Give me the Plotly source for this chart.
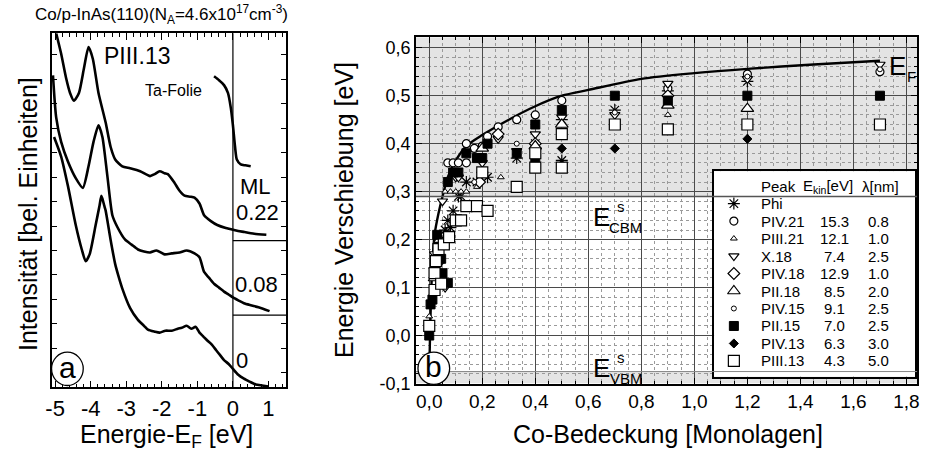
import plotly.graph_objects as go

W, H = 927, 463
FONT = "Arial, Liberation Sans, sans-serif"

# ---------------- left panel: spectra (energy eV, intensity arb.) ----------------
spec_0_E = [-5.03, -4.83, -4.64, -4.42, -4.25, -4.14, -4.03, -3.86, -3.75, -3.70, -3.67, -3.62, -3.58, -3.44,
            -3.31, -3.22, -3.11, -2.89, -2.67, -2.50, -2.39, -2.20, -2.06, -1.90, -1.72, -1.55, -1.44, -1.30,
            -1.17, -1.05, -0.94, -0.83, -0.72, -0.60, -0.47, -0.36, -0.25, -0.12, 0.0, 0.15, 0.31, 0.47, 0.64, 0.82, 1.0]
spec_0_I = [256, 236, 206, 166, 141, 129, 136, 166, 186, 196, 193, 186, 181, 151,
            126, 114, 101, 81, 69, 63, 59, 57, 56, 58, 58, 60, 61, 63,
            60, 62, 56, 52, 48, 44, 38, 33, 28, 24, 19, 13, 9, 6, 3, 2, 1]

spec_008_E = [-5.06, -4.97, -4.83, -4.64, -4.42, -4.22, -4.06, -3.92, -3.78, -3.67, -3.53, -3.39, -3.25, -3.03,
              -2.85, -2.67, -2.50, -2.33, -2.15, -1.92, -1.72, -1.50, -1.30, -1.08, -0.94, -0.81, -0.67, -0.53,
              -0.39, -0.25, -0.12, 0.0, 0.15, 0.31, 0.50, 0.72, 1.03]
spec_008_I = [319, 276, 251, 231, 214, 204, 226, 251, 268, 256, 216, 176, 164, 151,
              146, 141, 139, 138, 140, 136, 137, 138, 140, 137, 133, 118, 112, 106,
              102, 98, 95, 92, 89, 86, 84, 82, 78]

spec_022_E = [-4.97, -4.83, -4.69, -4.58, -4.47, -4.33, -4.19, -4.06, -3.94, -3.78, -3.58, -3.44, -3.31, -3.11,
              -2.89, -2.61, -2.33, -2.20, -2.06, -1.92, -1.83, -1.64, -1.50, -1.36, -1.20, -1.08, -0.94, -0.81,
              -0.62, -0.44, -0.20, 0.03, 0.30, 0.60, 0.94]
spec_022_I = [362, 341, 316, 301, 293, 301, 326, 348, 336, 301, 271, 246, 233, 226,
              224, 221, 216, 218, 221, 219, 218, 209, 201, 196, 195, 194, 188, 176,
              170, 166, 163, 161, 159, 157, 156]

ta_E = [-0.53, -0.39, -0.25, -0.14, -0.06, 0.0, 0.06, 0.11, 0.22, 0.35, 0.50]
ta_I = [318, 314, 309, 301, 286, 268, 246, 233, 228, 227, 226]

left_ticks = [-5, -4, -3, -2, -1, 0, 1]
left_ticktext = ["-5", "-4", "-3", "-2", "-1", "0", "1"]

# ---------------- right panel: shifts vs coverage ----------------
ef_x = [0.0, 0.003, 0.008, 0.013, 0.02, 0.035, 0.05, 0.07, 0.10, 0.14, 0.20, 0.30, 0.40, 0.50, 0.60,
        0.80, 1.00, 1.20, 1.45, 1.70]
ef_y = [-0.08, 0.0, 0.10, 0.16, 0.21, 0.255, 0.29, 0.33, 0.365, 0.395, 0.418, 0.45, 0.478, 0.50, 0.512,
        0.535, 0.547, 0.556, 0.565, 0.573]

phi_x = [0.06, 0.07, 0.08, 0.09, 0.11, 0.12, 0.14, 0.18, 0.20, 0.22, 0.33, 0.40, 0.50, 0.50, 0.70, 0.90, 1.20]
phi_y = [0.22, 0.24, 0.225, 0.26, 0.29, 0.29, 0.32, 0.32, 0.34, 0.33, 0.37, 0.40, 0.45, 0.365, 0.47, 0.51, 0.53]

piv21_x = [0.07, 0.09, 0.11, 0.14, 0.14, 0.17, 0.20, 0.22, 0.26, 0.33, 0.40, 0.50, 0.90, 1.20, 1.70]
piv21_y = [0.36, 0.36, 0.36, 0.36, 0.40, 0.39, 0.395, 0.415, 0.435, 0.45, 0.46, 0.49, 0.515, 0.545, 0.55]

piii21_x = [0.0, 0.02, 0.06, 0.08, 0.10, 0.12, 0.14, 0.18, 0.27, 0.90]
piii21_y = [0.04, 0.14, 0.30, 0.30, 0.30, 0.30, 0.30, 0.31, 0.33, 0.46]

x18_x = [0.02, 0.05, 0.06, 0.10, 0.11, 0.20, 0.26, 0.33, 0.40, 0.50, 0.70, 0.90, 1.20, 1.70]
x18_y = [0.17, 0.28, 0.10, 0.33, 0.33, 0.36, 0.41, 0.385, 0.42, 0.455, 0.46, 0.525, 0.535, 0.565]

piv18_x = [0.03, 0.19, 0.26, 0.40, 0.90]
piv18_y = [0.15, 0.32, 0.42, 0.40, 0.50]

pii18_x = [0.02, 0.04, 0.20, 0.40, 0.50, 0.90, 1.20]
pii18_y = [0.12, 0.20, 0.39, 0.395, 0.44, 0.48, 0.473]

piv15_x = [0.17, 0.33, 0.70, 1.20, 1.70]
piv15_y = [0.32, 0.40, 0.465, 0.54, 0.555]

pii15_x = [0.0, 0.005, 0.012, 0.03, 0.045, 0.05, 0.07, 0.07, 0.09, 0.11, 0.14, 0.18, 0.20, 0.22, 0.33,
           0.40, 0.40, 0.50, 0.70, 0.90, 1.20, 1.70]
pii15_y = [0.0, 0.065, 0.075, 0.21, 0.16, 0.13, 0.11, 0.32, 0.34, 0.34, 0.38, 0.37, 0.37, 0.40, 0.38,
           0.44, 0.365, 0.47, 0.50, 0.49, 0.50, 0.50]

piv13_x = [0.50, 0.70, 1.20]
piv13_y = [0.39, 0.39, 0.41]

piii13_x = [0.0, 0.02, 0.02, 0.025, 0.035, 0.045, 0.055, 0.075, 0.10, 0.12, 0.14, 0.18, 0.20, 0.22, 0.33,
            0.40, 0.40, 0.50, 0.50, 0.70, 0.90, 1.20, 1.70]
piii13_y = [0.02, 0.095, 0.13, 0.155, 0.18, 0.108, 0.19, 0.205, 0.24, 0.24, 0.27, 0.27, 0.34, 0.26, 0.31,
            0.38, 0.35, 0.42, 0.35, 0.44, 0.43, 0.44, 0.44]

peak_names = ["Phi", "PIV.21", "PIII.21", "X.18", "PIV.18", "PII.18", "PIV.15", "PII.15", "PIV.13", "PIII.13"]
ekin_vals = ["", "15.3", "12.1", "7.4", "12.9", "8.5", "9.1", "7.0", "6.3", "4.3"]
lambda_vals = ["", "0.8", "1.0", "2.5", "1.0", "2.0", "2.5", "2.5", "3.0", "5.0"]

right_xticks = [0.0, 0.2, 0.4, 0.6, 0.8, 1.0, 1.2, 1.4, 1.6, 1.8]
right_xticktext = ["0,0", "0,2", "0,4", "0,6", "0,8", "1,0", "1,2", "1,4", "1,6", "1,8"]
right_yticks = [-0.1, 0.0, 0.1, 0.2, 0.3, 0.4, 0.5, 0.6]
right_yticktext = ["-0,1", "0,0", "0,1", "0,2", "0,3", "0,4", "0,5", "0,6"]

series = [
    (phi_x, phi_y, dict(symbol="asterisk-open", size=10, color="black", line=dict(color="black", width=1.2))),
    (piv21_x, piv21_y, dict(symbol="circle", size=8, color="white", line=dict(color="black", width=1.2))),
    (piii21_x, piii21_y, dict(symbol="triangle-up", size=6, color="white", line=dict(color="black", width=1))),
    (x18_x, x18_y, dict(symbol="triangle-down", size=9, color="white", line=dict(color="black", width=1.2))),
    (piv18_x, piv18_y, dict(symbol="diamond", size=9, color="white", line=dict(color="black", width=1.2))),
    (pii18_x, pii18_y, dict(symbol="triangle-up", size=11, color="white", line=dict(color="black", width=1.2))),
    (piv15_x, piv15_y, dict(symbol="circle", size=5, color="white", line=dict(color="black", width=1))),
    (pii15_x, pii15_y, dict(symbol="square", size=9, color="black", line=dict(color="black", width=1))),
    (piv13_x, piv13_y, dict(symbol="diamond", size=7, color="black", line=dict(color="black", width=1))),
    (piii13_x, piii13_y, dict(symbol="square", size=11, color="white", line=dict(color="black", width=1.2))),
]

fig = go.Figure()

# left panel curves
for E, I in [(spec_0_E, spec_0_I), (spec_008_E, spec_008_I), (spec_022_E, spec_022_I), (ta_E, ta_I)]:
    fig.add_trace(go.Scatter(x=E, y=I, mode="lines", line=dict(color="black", width=2.6, shape="spline", smoothing=0.6),
                             xaxis="x", yaxis="y", showlegend=False, hoverinfo="skip"))

# right panel
fig.add_trace(go.Scatter(x=ef_x, y=ef_y, mode="lines", line=dict(color="black", width=2.4, shape="spline", smoothing=0.8),
                         xaxis="x2", yaxis="y2", showlegend=False, cliponaxis=True))
for xs, ys, mk in series:
    fig.add_trace(go.Scatter(x=xs, y=ys, mode="markers", marker=mk, xaxis="x2", yaxis="y2", showlegend=False))

# custom legend (overlay axes x3/y3): rows 1..10, header row 0
for i, (xs, ys, mk) in enumerate(series):
    fig.add_trace(go.Scatter(x=[20], y=[i + 1], mode="markers", marker=mk, xaxis="x3", yaxis="y3",
                             showlegend=False, hoverinfo="skip"))

annotations = []

def pann(text, x, y, size, xanchor="center", yanchor="middle", **kw):
    annotations.append(dict(text=text, x=x / W, y=1 - y / H, xref="paper", yref="paper", showarrow=False,
                            xanchor=xanchor, yanchor=yanchor, font=dict(family=FONT, size=size, color="black"), **kw))

# legend texts
def lann(text, x, row, size=15, xanchor="center"):
    annotations.append(dict(text=text, x=x, y=row, xref="x3", yref="y3", showarrow=False, xanchor=xanchor,
                            yanchor="middle", font=dict(family=FONT, size=size, color="black")))

lann("Peak", 45, 0, xanchor="left")
lann("E<sub>kin</sub>[eV]", 115, 0)
lann("λ[nm]", 168, 0)
for i, name in enumerate(peak_names):
    lann(name, 45, i + 1, xanchor="left")
    if ekin_vals[i]:
        lann(ekin_vals[i], 122, i + 1)
        lann(lambda_vals[i], 166, i + 1)

# titles and labels
pann("Co/p-InAs(110)(N<sub>A</sub>=4.6x10<sup>17</sup>cm<sup>-3</sup>)", 157, 15, 17)
pann("Intensität [bel. Einheiten]", 22, 219, 25, textangle=-90)
pann("Energie-E<sub>F</sub> [eV]", 162, 446, 25)
pann("Energie Verschiebung [eV]", 342, 215, 25, textangle=-90)
pann("Co-Bedeckung [Monolagen]", 668, 444, 25)
pann("PIII.13", 97, 57, 23, xanchor="left")
pann("Ta-Folie", 138, 92, 16, xanchor="left")
pann("ML", 252, 191, 22)
pann("0.22", 254, 217, 22)
pann("0.08", 253, 291, 22)
pann("0", 238, 368, 22)
pann("E", 601, 222, 26)
pann("s", 621, 211, 15)
pann("CBM", 626, 233, 15)
pann("E", 601, 376, 26)
pann("s", 621, 365, 15)
pann("VBM", 627, 387, 15)
pann("E", 900, 67, 26)
pann("F", 914, 78, 15)
pann("a", 62, 376, 30)
pann("b", 432, 375, 30)

shapes = [
    # gray bands in right panel
    dict(type="rect", xref="x2 domain", yref="y2", x0=0, x1=1, y0=0.29, y1=0.622, fillcolor="#e4e4e4",
         line=dict(width=0), layer="below"),
    dict(type="rect", xref="x2 domain", yref="y2", x0=0, x1=1, y0=-0.1, y1=-0.075, fillcolor="#e4e4e4",
         line=dict(width=0), layer="below"),
    dict(type="line", xref="x2 domain", yref="y2", x0=0, x1=1, y0=0.29, y1=0.29, line=dict(color="#555", width=1.5)),
    dict(type="line", xref="x2 domain", yref="y2", x0=0, x1=1, y0=-0.075, y1=-0.075, line=dict(color="#888", width=1)),
    # left panel separators
    dict(type="line", xref="x", yref="y domain", x0=0, x1=0, y0=0, y1=1, line=dict(color="black", width=1.2)),
    dict(type="line", xref="x", yref="y", x0=0, x1=1.5, y0=150, y1=150, line=dict(color="black", width=1.2)),
    dict(type="line", xref="x", yref="y", x0=0, x1=1.5, y0=74, y1=74, line=dict(color="black", width=1.2)),
    # circled labels
    dict(type="circle", xref="paper", yref="paper", x0=46 / W, x1=78 / W, y0=1 - 394 / H, y1=1 - 360 / H,
         fillcolor="white", line=dict(color="black", width=1.3), layer="above"),
    dict(type="circle", xref="paper", yref="paper", x0=416 / W, x1=448 / W, y0=1 - 393 / H, y1=1 - 360 / H,
         fillcolor="white", line=dict(color="black", width=1.3), layer="above"),
]

axcommon = dict(showline=True, linecolor="black", linewidth=1.5, mirror="allticks", ticks="inside",
                tickcolor="black", zeroline=False, tickfont=dict(family=FONT, size=22, color="black"))

fig.update_layout(
    width=W, height=H, margin=dict(l=0, r=0, t=0, b=0),
    paper_bgcolor="white", plot_bgcolor="white",
    font=dict(family=FONT, color="black"),
    showlegend=False,
    xaxis=dict(domain=[46 / W, 283 / W], anchor="y", range=[-5.1, 1.5], tickmode="array", tickvals=left_ticks,
               ticktext=left_ticktext, ticklen=7, tickwidth=1.3, showgrid=False,
               minor=dict(tickmode="linear", tick0=0, dtick=0.2, ticks="inside", ticklen=4, tickcolor="black", showgrid=False),
               **axcommon),
    yaxis=dict(domain=[1 - 396 / H, 1 - 34 / H], anchor="x", range=[0, 362], tickmode="linear", tick0=15, dtick=25,
               ticklen=6, tickwidth=1.2, showticklabels=False, showgrid=False, **axcommon),
    xaxis2=dict(domain=[414 / W, 920 / W], anchor="y2", range=[-0.05, 1.84], tickmode="array", tickvals=right_xticks,
                ticktext=right_xticktext, ticklen=6, tickwidth=1.3, showgrid=True, gridcolor="#4a4a4a", gridwidth=1,
                minor=dict(tickmode="linear", tick0=0, dtick=0.05, ticks="inside", ticklen=3, tickcolor="black",
                           showgrid=True, gridcolor="#9a9a9a", griddash="dot", gridwidth=1),
                **{**axcommon, "tickfont": dict(family=FONT, size=19, color="black")}),
    yaxis2=dict(domain=[1 - 392 / H, 1 - 38 / H], anchor="x2", range=[-0.1, 0.622], tickmode="array",
                tickvals=right_yticks, ticktext=right_yticktext, ticklen=6, tickwidth=1.3, showgrid=True,
                gridcolor="#4a4a4a", gridwidth=1,
                minor=dict(tickmode="linear", tick0=0, dtick=0.02, ticks="inside", ticklen=3, tickcolor="black",
                           showgrid=True, gridcolor="#9a9a9a", griddash="dot", gridwidth=1),
                **{**axcommon, "tickfont": dict(family=FONT, size=18, color="black")}),
    xaxis3=dict(domain=[715 / W, 918 / W], anchor="y3", range=[0, 203], showline=True, mirror=True, linecolor="black",
                linewidth=1.5, showgrid=False, zeroline=False, showticklabels=False, ticks=""),
    yaxis3=dict(domain=[1 - 385 / H, 1 - 175 / H], anchor="x3", range=[10.9, -0.85], showline=True, mirror=True,
                linecolor="black", linewidth=1.5, showgrid=False, zeroline=False, showticklabels=False, ticks=""),
    annotations=annotations,
    shapes=shapes,
)

fig.write_html("out.html")
